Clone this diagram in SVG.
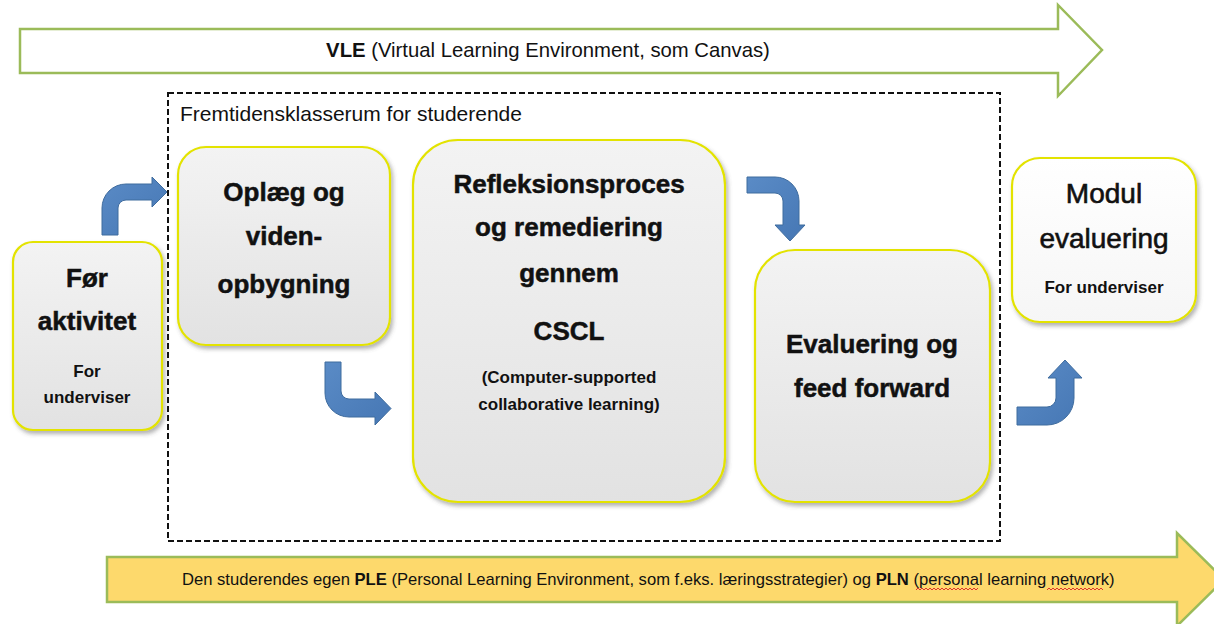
<svg xmlns="http://www.w3.org/2000/svg" width="1214" height="624" viewBox="0 0 1214 624">
<defs>
<style>
.t{font-family:"Liberation Sans",Arial,sans-serif;fill:#111}
.big{font-size:26px;font-weight:bold;text-anchor:middle;stroke:#111;stroke-width:0.5}
.sm{font-size:17px;font-weight:bold;text-anchor:middle}
.node{stroke:#e3e300;stroke-width:2.2;filter:url(#sh)}
.arr{fill:url(#bg);stroke:#3f6c9e;stroke-width:1}
.sq{fill:none;stroke:#e03030;stroke-width:1}
</style>
<linearGradient id="gg" x1="0" y1="0" x2="0" y2="1">
<stop offset="0" stop-color="#f3f3f3"/><stop offset="1" stop-color="#e2e2e2"/>
</linearGradient>
<linearGradient id="gw" x1="0" y1="0" x2="0" y2="1">
<stop offset="0" stop-color="#ffffff"/><stop offset="1" stop-color="#f6f6f6"/>
</linearGradient>
<linearGradient id="bg" x1="0" y1="0" x2="1" y2="1">
<stop offset="0" stop-color="#5a8bc6"/><stop offset="1" stop-color="#4677b4"/>
</linearGradient>
<filter id="sh" x="-10%" y="-10%" width="125%" height="125%">
<feDropShadow dx="2" dy="3" stdDeviation="2" flood-color="#555" flood-opacity="0.45"/>
</filter>
</defs>
<rect width="1214" height="624" fill="#fff"/>

<g id="vle">
<path d="M20,29 L1058,29 L1058,5 L1102,50 L1058,96 L1058,73 L20,73 Z" fill="#fff" stroke="#9bbb59" stroke-width="2.5"/>
<text class="t" x="548" y="57" font-size="20.3" text-anchor="middle"><tspan font-weight="bold">VLE</tspan> (Virtual Learning Environment, som Canvas)</text>
</g>

<g id="klasserum">
<rect x="168" y="93" width="832" height="448" fill="none" stroke="#111" stroke-width="2" stroke-dasharray="6 3"/>
<text class="t" x="180" y="121" font-size="21">Fremtidensklasserum for studerende</text>
</g>

<g id="ple">
<path d="M107,557 L1177,557 L1177,533 L1224,579.5 L1177,626 L1177,602 L107,602 Z" fill="#fdd96c" stroke="#9bbb59" stroke-width="2.5"/>
<text class="t" x="182" y="585" font-size="16.6">Den studerendes egen <tspan font-weight="bold">PLE</tspan> (Personal Learning Environment, som f.eks. læringsstrategier) og <tspan font-weight="bold">PLN</tspan> (personal learning network)</text>
<path class="sq" d="M916,590 l2,-2 l2,2 l2,-2 l2,2 l2,-2 l2,2 l2,-2 l2,2 l2,-2 l2,2 l2,-2 l2,2 l2,-2 l2,2 l2,-2 l2,2 l2,-2 l2,2 l2,-2 l2,2 l2,-2 l2,2 l2,-2 l2,2 l2,-2 l2,2 l2,-2 l2,2 l2,-2 l2,2 l2,-2"/>
<path class="sq" d="M1047,590 l2,-2 l2,2 l2,-2 l2,2 l2,-2 l2,2 l2,-2 l2,2 l2,-2 l2,2 l2,-2 l2,2 l2,-2 l2,2 l2,-2 l2,2 l2,-2 l2,2 l2,-2 l2,2 l2,-2 l2,2 l2,-2 l2,2 l2,-2 l2,2 l2,-2 l2,2"/>
</g>

<g id="connectors">
<path class="arr" d="M102,235 L102,208 A24,24 0 0 1 126,184 L152,184 L152,177 L167,192 L152,207 L152,200 L126,200 A8,8 0 0 0 118,208 L118,235 Z"/>
<path class="arr" d="M325,362 L341,362 L341,391 A8,8 0 0 0 349,399 L375,399 L375,392 L391,408.5 L375,425 L375,417 L349,417 A24,24 0 0 1 325,393 Z"/>
<path class="arr" d="M747,177 L775,177 A24,24 0 0 1 799,201 L799,225 L805,225 L790,241 L775,225 L783,225 L783,201 A8,8 0 0 0 775,193 L747,193 Z"/>
<path class="arr" d="M1017,407 L1047,407 A9,9 0 0 0 1056,398 L1056,378 L1048,378 L1065,360 L1082,378 L1074,378 L1074,398 A27,27 0 0 1 1047,425 L1017,425 Z"/>
</g>

<g id="foer">
<rect class="node" x="13" y="242" width="149" height="188" rx="20" fill="url(#gg)"/>
<text class="t big" x="87" y="287">Før</text>
<text class="t big" x="87" y="330">aktivitet</text>
<text class="t sm" x="87" y="377">For</text>
<text class="t sm" x="87" y="403">underviser</text>
</g>

<g id="oplaeg">
<rect class="node" x="178" y="147" width="212" height="198" rx="28" fill="url(#gg)"/>
<text class="t big" x="284" y="201">Oplæg og</text>
<text class="t big" x="284" y="245">viden-</text>
<text class="t big" x="284" y="293">opbygning</text>
</g>

<g id="refleksion">
<rect class="node" x="413" y="140" width="312" height="362" rx="45" fill="url(#gg)"/>
<text class="t big" x="569" y="193">Refleksionsproces</text>
<text class="t big" x="569" y="236">og remediering</text>
<text class="t big" x="569" y="282">gennem</text>
<text class="t big" x="569" y="340">CSCL</text>
<text class="t sm" x="569" y="383">(Computer-supported</text>
<text class="t sm" x="569" y="410">collaborative  learning)</text>
</g>

<g id="evaluering">
<rect class="node" x="755" y="250" width="235" height="252" rx="40" fill="url(#gg)"/>
<text class="t big" x="872" y="353" font-size="27">Evaluering og</text>
<text class="t big" x="872" y="397" font-size="27">feed forward</text>
</g>

<g id="modul">
<rect class="node" x="1012" y="158" width="184" height="164" rx="28" fill="url(#gw)"/>
<text class="t" x="1104" y="203" font-size="28" text-anchor="middle" stroke="#111" stroke-width="0.6">Modul</text>
<text class="t" x="1104" y="248" font-size="28" text-anchor="middle" stroke="#111" stroke-width="0.6">evaluering</text>
<text class="t sm" x="1104" y="293">For underviser</text>
</g>
</svg>
